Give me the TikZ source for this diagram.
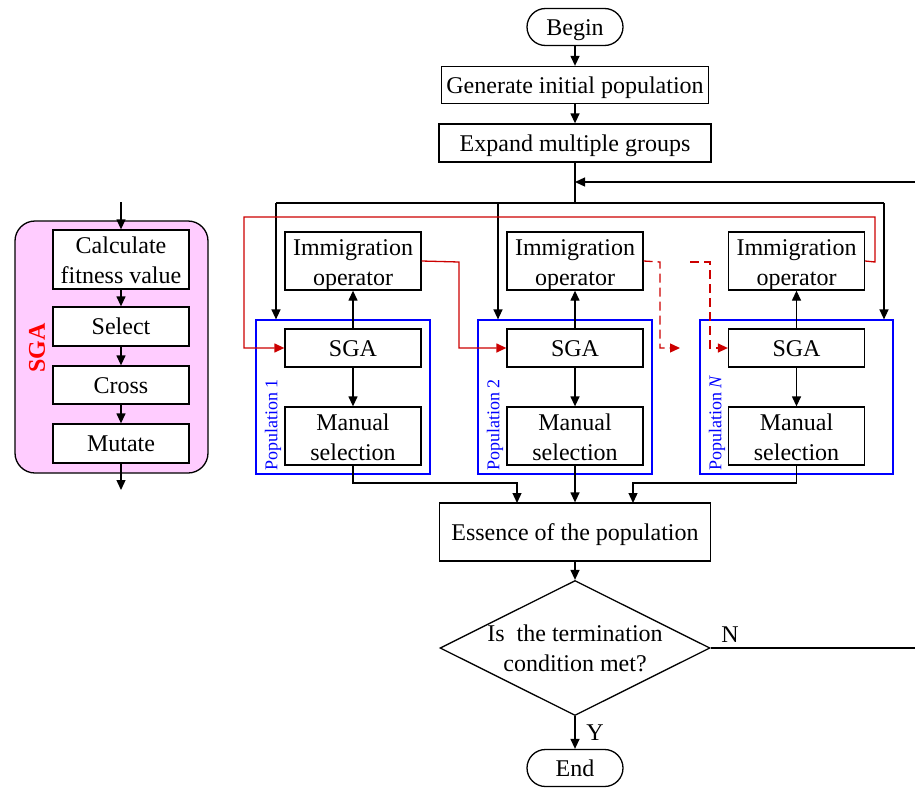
\documentclass[tikz,border=0pt]{standalone}
\usepackage{fontspec}
\setmainfont{Liberation Serif}
\usetikzlibrary{arrows.meta,shapes.geometric,shapes.misc}
\definecolor{pinkfill}{HTML}{FFCCFF}
\definecolor{myred}{HTML}{CC0000}
\newcommand{\boxstrut}{\rule[-5.2pt]{0pt}{26.8pt}}
\newcommand{\topstrut}{\rule{0pt}{20pt}}
\newcommand{\lastline}[1]{\raisebox{0pt}[\height][2pt]{#1}}
\begin{document}
\begin{tikzpicture}[x=1pt,y=-1pt,
  every node/.style={font=\fontsize{24}{30}\selectfont, inner sep=0pt},
  box/.style={draw, line width=1.3pt, minimum width=136pt, align=center},
  one/.style={box, execute at begin node=\boxstrut},
  term/.style={draw, rounded rectangle, line width=1.3pt, minimum width=96pt, minimum height=37pt,
    execute at begin node=\boxstrut},
  popbox/.style={draw=blue, line width=1.2pt, minimum height=154pt},
  poplab/.style={rotate=90, anchor=west, text=blue, font=\fontsize{18}{20}\selectfont},
  plain/.style={line width=1.3pt},
  conn/.style={line width=1.3pt, -{Triangle[length=10pt,width=9pt]}},
  redconn/.style={line width=1.3pt, draw=myred, -{Triangle[length=10pt,width=9pt]}, color=myred},
  reddash/.style={redconn, dash pattern=on 9pt off 5pt}
]
\useasboundingbox (0,0) rectangle (915,787);

% ---------- left panel ----------
\node[draw, line width=1.3pt, fill=pinkfill, rounded corners=20pt, minimum width=193pt, minimum height=252pt] (panel) at (111.5,347) {};
\node[box, minimum height=59pt, fill=white] (calc) at (121,259.5) {\topstrut Calculate\\\lastline{fitness value}};
\node[one, minimum height=39pt, fill=white] (sel) at (121,326.5) {Select};
\node[one, minimum height=38pt, fill=white] (cross) at (121,385) {Cross};
\node[one, minimum height=39pt, fill=white] (mut) at (121,443.5) {Mutate};
\node[rotate=90, text=red, font=\fontsize{24}{29}\selectfont\bfseries] (sgalab) at (37,348) {SGA};
\coordinate (inT) at (121,202);
\coordinate (outB) at (121,490);
\draw[conn] (inT) -- (calc.north);
\draw[conn] (calc.south) -- (sel.north);
\draw[conn] (sel.south) -- (cross.north);
\draw[conn] (cross.south) -- (mut.north);
\draw[conn] (mut.south) -- (outB);

% ---------- main column ----------
\node[term] (begin) at (575,27) {Begin};
\node[one, minimum width=267pt, minimum height=37pt] (gen) at (575,85) {Generate initial population};
\node[one, minimum width=272pt, minimum height=38pt] (exp) at (575,143) {Expand multiple groups};
\draw[conn] (begin.south) -- (gen.north);
\draw[conn] (gen.south) -- (exp.north);

% population boxes
\node[popbox, minimum width=174pt] (pop1) at (343,397) {};
\node[popbox, minimum width=174pt] (pop2) at (565,397) {};
\node[popbox, minimum width=193pt] (pop3) at (796.5,397) {};
\node[poplab] (pl1) at (273,471) {Population 1};
\node[poplab] (pl2) at (495,471) {Population 2};
\node[poplab] (pl3) at (717,471) {Population \textit{N}};

% columns
\foreach \i/\x in {1/353,2/575,3/796.5}{
  \node[box, minimum height=58pt] (imm\i) at (\x,261) {\topstrut Immigration\\\lastline{operator}};
  \node[one, minimum height=38pt] (sga\i) at (\x,348) {SGA};
  \node[box, minimum height=58pt] (man\i) at (\x,436) {\topstrut Manual\\\lastline{selection}};
  \draw[conn] (sga\i.north) -- (imm\i.south);
  \draw[conn] (sga\i.south) -- (man\i.north);
}

% distribution from expand
\coordinate (jc) at (575,203);
\coordinate (j1) at (276,203);
\coordinate (j2) at (498,203);
\coordinate (j3) at (884,203);
\draw[plain] (exp.south) -- (jc);
\draw[plain] (j1) -- (j3);
\draw[conn] (j1) -- (j1 |- pop1.north);
\draw[conn] (j2) -- (j2 |- pop2.north);
\draw[conn] (j3) -- (j3 |- pop3.north);

% red migration paths
\draw[redconn] (imm3.east) -- (875,262) -- (875,217) -- (244,217) -- (244,348) -- (sga1.west);
\draw[redconn] (imm1.east) -- (459,262) -- (459,348) -- (sga2.west);
\coordinate (dashEnd) at (680,348);
\coordinate (dashStart) at (690,262);
\draw[reddash] (imm2.east) -- (660,262) -- (660,348) -- (dashEnd);
\draw[reddash] (dashStart) -- (710,262) -- (710,348) -- (sga3.west);

% essence
\node[one, minimum width=271pt, minimum height=58pt] (ess) at (575,532) {Essence of the population};
\draw[conn] (man1.south) -- (353,483) -- (517,483) -- (517,503);
\draw[conn] (man2.south) -- (ess.north);
\draw[conn] (man3.south) -- (796.5,483) -- (633,483) -- (633,503);

% decision
\node[diamond, draw, line width=1.3pt, aspect=2, minimum width=270pt, minimum height=135pt, inner sep=0pt] (dia) at (575,648) {};
\node[align=center] (diatext) at (575,648) {Is~ the termination\\condition met?};
\draw[conn] (ess.south) -- (dia.north);
\node[term] (end) at (575,768) {End};
\draw[conn] (dia.south) -- (end.north);
\node (ylab) at (595,733) {Y};
\node (nlab) at (730,635) {N};

% feedback
\coordinate (fbR) at (920,182);
\coordinate (fbC) at (575,182);
\draw[conn] (dia.east) -- (dia.east -| fbR) -- (fbR) -- (fbC);
\end{tikzpicture}
\end{document}
